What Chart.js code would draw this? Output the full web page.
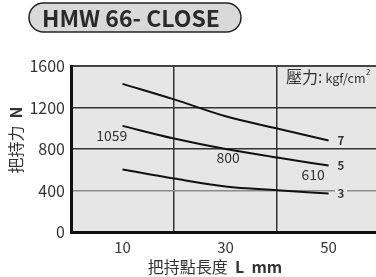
<!DOCTYPE html>
<html>
<head>
<meta charset="utf-8">
<script src="https://cdn.jsdelivr.net/npm/chart.js@4/dist/chart.umd.min.js"></script>
<style>
html,body{margin:0;padding:0;background:#fff;overflow:hidden;}
#wrap{position:relative;width:376px;height:277px;}
</style>
</head>
<body>
<div id="wrap"><canvas id="c" width="376" height="277"></canvas></div>
<script>
const titleText = 'HMW 66- CLOSE';
const xValues = [10, 20, 30, 40, 50];
const xTickLabels = [10, 30, 50];
const yTicks = [0, 400, 800, 1200, 1600];
const series7 = [1428, 1278, 1115, 998, 882];
const series5 = [1023, 901, 800, 718, 640];
const series3 = [602, 515, 438, 402, 370];
const seriesNames = ['7', '5', '3'];
const valueLabels = ['1059', '800', '610'];
const yTitle = '把持力';
const yUnit = 'N';
const xTitle = '把持點長度';
const xUnit = 'L  mm';
const legendTitle = '壓力:';
const legendUnit = 'kgf/cm';

const FONT = '"Noto Sans CJK TC", "Noto Sans", sans-serif';
const TXT = '#333';

function pts(arr){ return xValues.map((x,i)=>({x:x, y:arr[i]})); }
const lineStyle = {borderColor:'#111', borderWidth:2, pointRadius:0, cubicInterpolationMode:'monotone', fill:false};

const decor = {
  id:'decor',
  beforeDraw(chart){
    const ctx = chart.ctx, a = chart.chartArea;
    ctx.save();
    ctx.fillStyle = '#e6e6e6';
    ctx.fillRect(a.left, a.top, a.right-a.left, a.bottom-a.top);
    // title pill
    const L=29, T=3, W=212, H=29, r=14.5;
    ctx.beginPath();
    ctx.moveTo(L+r,T); ctx.lineTo(L+W-r,T); ctx.arc(L+W-r,T+r,r,-Math.PI/2,Math.PI/2);
    ctx.lineTo(L+r,T+H); ctx.arc(L+r,T+r,r,Math.PI/2,Math.PI*1.5); ctx.closePath();
    ctx.fillStyle='#d9d9d9'; ctx.fill();
    ctx.lineWidth=1.5; ctx.strokeStyle='#222'; ctx.stroke();
    ctx.fillStyle='#2a2a2a'; ctx.font='bold 23px '+FONT; ctx.textAlign='center'; ctx.textBaseline='middle';
    ctx.fillText(titleText, 131, 18);
    ctx.restore();
  },
  afterDraw(chart){
    const ctx = chart.ctx, xs = chart.scales.x, ys = chart.scales.y;
    ctx.save();
    ctx.fillStyle = TXT; ctx.textBaseline='middle';
    // y title
    ctx.save();
    ctx.translate(15.5, 140); ctx.rotate(-Math.PI/2);
    ctx.font='16px '+FONT; const w1 = ctx.measureText(yTitle+'  ').width;
    ctx.font='bold 16px '+FONT; const w2 = ctx.measureText(yUnit).width;
    let sx = -(w1+w2)/2;
    ctx.textAlign='left';
    ctx.font='16px '+FONT; ctx.fillText(yTitle, sx, 0);
    ctx.font='bold 16px '+FONT; ctx.fillText(yUnit, sx+w1, 0);
    ctx.restore();
    // x title
    ctx.font='16px '+FONT; const a1 = ctx.measureText(xTitle+'  ').width;
    ctx.font='bold 16px '+FONT; const a2 = ctx.measureText(xUnit).width;
    let tx = 215-(a1+a2)/2;
    ctx.textAlign='left';
    ctx.font='16px '+FONT; ctx.fillText(xTitle, tx, 267);
    ctx.font='bold 16px '+FONT; ctx.fillText(xUnit, tx+a1, 267);
    // legend title
    ctx.font='16px '+FONT; ctx.fillText(legendTitle, 286, 77);
    const lw = ctx.measureText(legendTitle).width;
    ctx.font='12.5px '+FONT; ctx.fillText(legendUnit, 286+lw+3, 78);
    const uw = ctx.measureText(legendUnit).width;
    ctx.font='8px '+FONT; ctx.fillText('2', 286+lw+3+uw+0.5, 72);
    // series end labels
    const ends = [series7, series5, series3];
    ctx.font='bold 11.5px '+FONT; ctx.textAlign='center';
    ends.forEach((s,i)=>{
      const px = xs.getPixelForValue(52.4), py = ys.getPixelForValue(s[s.length-1]);
      ctx.fillStyle='#e6e6e6'; ctx.fillRect(px-6, py-6, 12, 12);
      ctx.fillStyle=TXT; ctx.fillText(seriesNames[i], px, py+0.5);
    });
    // value labels
    ctx.font='14px '+FONT; ctx.fillStyle=TXT;
    const pos = [[7.9, 933],[30.5, 718],[47, 557]];
    valueLabels.forEach((t,i)=>{
      ctx.fillText(t, xs.getPixelForValue(pos[i][0]), ys.getPixelForValue(pos[i][1]));
    });
    ctx.restore();
  }
};

new Chart(document.getElementById('c'), {
  type:'line',
  data:{datasets:[
    Object.assign({label:seriesNames[0], data:pts(series7)}, lineStyle),
    Object.assign({label:seriesNames[1], data:pts(series5)}, lineStyle),
    Object.assign({label:seriesNames[2], data:pts(series3)}, lineStyle)
  ]},
  options:{
    responsive:false, animation:false, devicePixelRatio:1,
    layout:{padding:{top:66, left:0, right:0, bottom:0}},
    plugins:{legend:{display:false}, tooltip:{enabled:false}, title:{display:false}},
    scales:{
      x:{type:'linear', min:0, max:59.2,
        afterBuildTicks(s){ s.ticks = [10,20,30,40,50].map(v=>({value:v})); },
        afterFit(s){ s.height = 45; },
        ticks:{padding:6, autoSkip:false, maxRotation:0, color:TXT, font:{family:FONT, size:15},
          callback:(v)=> xTickLabels.includes(v) ? String(v) : ''},
        grid:{drawTicks:false, lineWidth:1.5, color:(c)=> (c.tick && (c.tick.value===20||c.tick.value===40)) ? '#333' : 'rgba(0,0,0,0)'},
        border:{display:true, color:'#111', width:3}
      },
      y:{type:'linear', min:0, max:1600,
        afterBuildTicks(s){ s.ticks = yTicks.map(v=>({value:v})); },
        afterFit(s){ s.width = 71; },
        ticks:{padding:6, color:TXT, font:{family:FONT, size:16}, callback:(v)=>String(v)},
        grid:{drawTicks:false, lineWidth:(c)=> (c.tick && c.tick.value===1600) ? 2 : 1.5,
          color:(c)=>{ const v = c.tick ? c.tick.value : null;
            if(v===0) return 'rgba(0,0,0,0)'; if(v===400) return '#8a8a8a'; if(v===1600) return '#444'; return '#333'; }},
        border:{display:true, color:'#111', width:3}
      }
    }
  },
  plugins:[decor]
});
</script>
</body>
</html>
